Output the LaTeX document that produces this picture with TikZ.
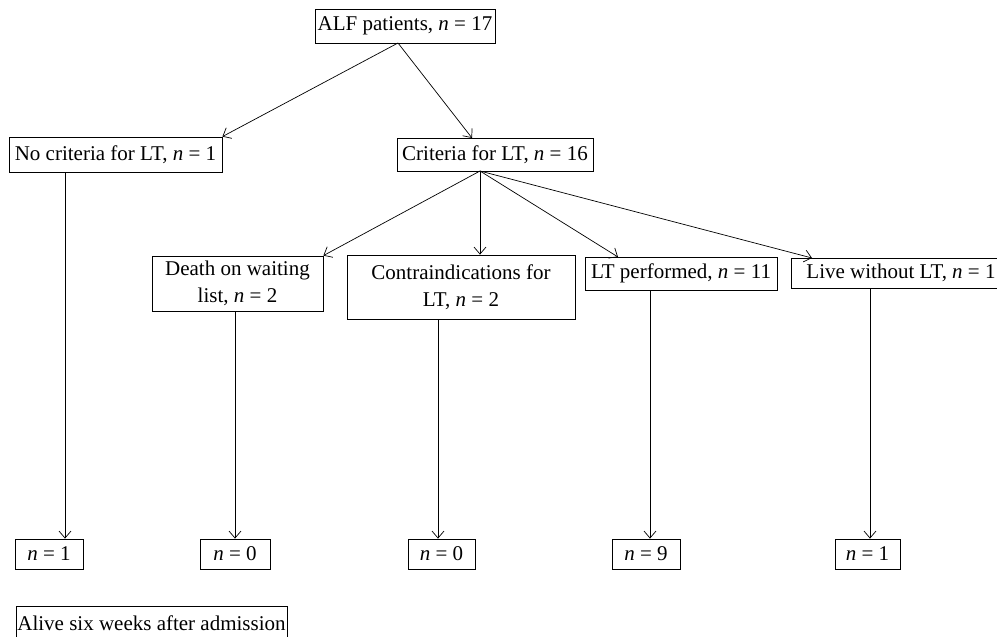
\documentclass[tikz,border=0pt]{standalone}
\usepackage{fontspec}
\setmainfont{Liberation Serif}
\usetikzlibrary{arrows.meta}
\begin{document}
\begin{tikzpicture}[x=1pt,y=-1pt,
  box/.style={draw, line width=0.8pt, inner sep=0pt, align=center,
    font=\fontsize{21}{27}\selectfont},
  arr/.style={-{Straight Barb[length=7pt,width=12pt]}, line width=0.7pt}]
\clip (0,0) rectangle (997,637);
\fill[white] (0,0) rectangle (997,637);
% top
\node[box, minimum width=180pt, minimum height=34pt] (alf) at (405,26) {ALF patients, \textit{n} = 17};
\node[box, minimum width=213pt, minimum height=35pt] (nocrit) at (115.5,154.5) {No criteria for LT, \textit{n} = 1};
\node[box, minimum width=196pt, minimum height=33pt] (crit) at (495,154.5) {Criteria for LT, \textit{n} = 16};
% middle
\node[box, minimum width=171pt, minimum height=55pt] (death) at (237.5,283.5) {Death on waiting\\list, \textit{n} = 2};
\node[box, minimum width=228pt, minimum height=64pt] (contra) at (461,287) {Contraindications for\\LT, \textit{n} = 2};
\node[box, minimum width=192pt, minimum height=33pt] (ltperf) at (681,273.5) {LT performed, \textit{n} = 11};
\node[box, minimum width=220pt, minimum height=30pt] (live) at (901,273) {Live without LT, \textit{n} = 1};
% bottom
\node[box, minimum width=68pt, minimum height=30pt] (n1a) at (49,554) {\textit{n} = 1};
\node[box, minimum width=70pt, minimum height=30pt] (n0a) at (235,554) {\textit{n} = 0};
\node[box, minimum width=67pt, minimum height=30pt] (n0b) at (441.5,554) {\textit{n} = 0};
\node[box, minimum width=68pt, minimum height=30pt] (n9) at (646,554) {\textit{n} = 9};
\node[box, minimum width=65pt, minimum height=30pt] (n1b) at (867.5,554) {\textit{n} = 1};
\node[box, minimum width=271pt, minimum height=35pt] (alive) at (151.5,623.5) {Alive six weeks after admission};
% helper coordinates
\coordinate (alfo) at (398,43);
\coordinate (criti) at (472,138);
\coordinate (crito) at (480,171);
\coordinate (ltperfi) at (618,257);
\coordinate (livei) at (812,258);
\coordinate (xa) at (65,0);
\coordinate (xb) at (235,0);
\coordinate (xc) at (438,0);
\coordinate (xd) at (650,0);
\coordinate (xe) at (870,0);
% connectors
\draw[arr] (alfo) -- (nocrit.north east);
\draw[arr] (alfo) -- (criti);
\draw[arr] (crito) -- (death.north east);
\draw[arr] (crito) -- (crito |- contra.north);
\draw[arr] (crito) -- (ltperfi);
\draw[arr] (crito) -- (livei);
\draw[arr] (nocrit.south -| xa) -- (n1a.north -| xa);
\draw[arr] (death.south -| xb) -- (n0a.north -| xb);
\draw[arr] (contra.south -| xc) -- (n0b.north -| xc);
\draw[arr] (ltperf.south -| xd) -- (n9.north -| xd);
\draw[arr] (live.south -| xe) -- (n1b.north -| xe);
\end{tikzpicture}
\end{document}
